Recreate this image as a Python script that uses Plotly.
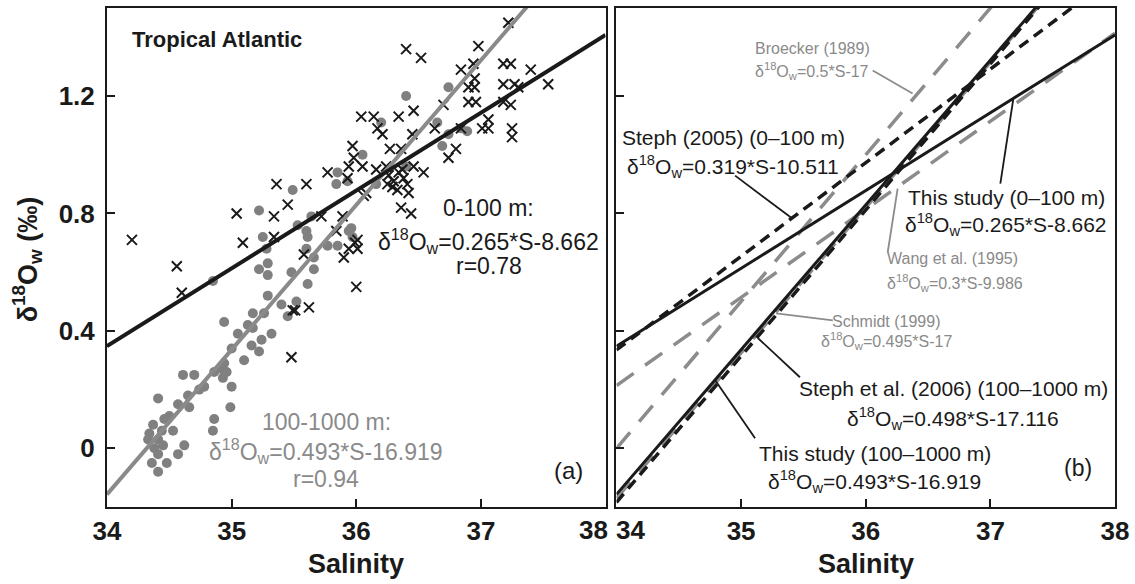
import plotly.graph_objects as go

FONT = "Liberation Sans, Arial, Helvetica, sans-serif"
BLACK = "#1a1a1a"
GRAY_DOT = "#808080"
GRAY_TXT = "#8a8a8a"
GRAY_LINE = "#8c8c8c"

# ---- panel (a) data: 100-1000 m (gray dots) ----
deep_sal = [35.29, 35.40, 35.17, 34.94, 35.26, 35.13, 35.05, 35.17, 35.32, 35.24,
            35.16, 35.00, 35.22, 35.10, 34.94, 34.92, 34.96, 34.86, 34.93, 35.00,
            34.78, 34.74, 34.61, 34.70, 34.65, 34.41, 34.57, 34.66, 34.99, 34.50,
            34.46, 34.86, 34.85, 34.37, 34.53, 34.34, 34.44, 34.41, 34.45, 34.62,
            34.57, 34.41, 34.36, 34.48, 34.41, 34.33, 34.38,
            36.05, 35.85, 35.84, 35.93, 36.16, 35.49, 35.22, 35.64, 35.53, 35.60,
            35.25, 35.60, 35.77, 35.85, 35.96, 35.97, 35.66, 35.29, 35.22, 35.29,
            35.48, 35.66, 34.85, 35.61, 35.52, 35.45, 36.40, 36.74, 36.20, 36.65,
            36.74, 36.69, 36.40, 36.84, 36.89, 35.94, 35.61, 35.28]
deep_d18o = [0.52, 0.49, 0.46, 0.43, 0.46, 0.42, 0.39, 0.41, 0.39, 0.37,
             0.35, 0.34, 0.33, 0.30, 0.29, 0.27, 0.26, 0.26, 0.24, 0.21,
             0.21, 0.20, 0.25, 0.25, 0.18, 0.17, 0.15, 0.14, 0.14, 0.11,
             0.10, 0.10, 0.06, 0.08, 0.06, 0.05, 0.06, 0.03, 0.01, 0.01,
             -0.02, -0.02, -0.05, -0.05, -0.08, 0.03, 0.00,
             1.00, 0.94, 0.90, 0.91, 0.90, 0.88, 0.81, 0.79, 0.76, 0.74,
             0.72, 0.68, 0.69, 0.69, 0.75, 0.72, 0.65, 0.63, 0.61, 0.59,
             0.60, 0.61, 0.57, 0.56, 0.50, 0.45, 1.20, 1.23, 1.11, 1.11,
             1.07, 1.03, 0.96, 1.09, 1.08, 0.74, 0.72, 0.68]

# ---- panel (a) data: 0-100 m (black crosses) ----
surf_sal = [34.20, 34.56, 34.60, 35.04, 35.09, 35.34, 35.36, 35.45, 35.34, 35.49,
            35.48, 35.97, 35.98, 35.94, 36.05, 35.77, 35.93, 35.60, 35.72, 35.89,
            36.06, 35.84, 35.58, 35.90, 35.94, 36.01, 35.99, 36.00, 35.51, 35.62,
            36.40, 36.52, 37.22, 36.98, 36.94, 36.84, 37.18, 37.24, 37.40, 36.95,
            36.90, 36.95, 37.18, 37.27, 37.30, 37.54, 36.90, 36.96, 37.18, 37.24,
            36.70, 36.46, 36.04, 36.14, 36.34, 36.17, 36.21, 36.45, 36.63, 36.84,
            37.01, 37.06, 37.06, 37.25, 37.25, 36.27, 36.36, 36.80, 36.74, 36.16,
            36.24, 36.46, 36.54, 36.08, 36.36, 36.44, 36.26, 36.30, 36.34, 36.38,
            36.29, 36.33, 36.41, 36.25, 36.37, 36.42, 36.01]
surf_d18o = [0.71, 0.62, 0.53, 0.80, 0.70, 0.79, 0.90, 0.83, 0.72, 0.47,
             0.31, 1.03, 0.99, 0.96, 0.96, 0.94, 0.92, 0.90, 0.79, 0.79,
             0.86, 0.74, 0.66, 0.65, 0.68, 0.68, 0.70, 0.55, 0.47, 0.48,
             1.36, 1.33, 1.45, 1.37, 1.31, 1.29, 1.31, 1.31, 1.29, 1.26,
             1.23, 1.23, 1.24, 1.24, 1.23, 1.24, 1.18, 1.18, 1.18, 1.17,
             1.17, 1.15, 1.13, 1.13, 1.13, 1.09, 1.07, 1.07, 1.09, 1.09,
             1.09, 1.12, 1.09, 1.09, 1.06, 1.02, 1.02, 1.02, 0.99, 0.95,
             0.96, 0.96, 0.94, 0.87, 0.82, 0.80, 0.93, 0.91, 0.94, 0.92,
             0.89, 0.88, 0.90, 0.90, 0.95, 0.87, 0.71]

# ---- regression equations (slope, intercept) as printed on the chart ----
sal_ends = [34, 38]
eq_names = ["Broecker (1989)", "Wang et al. (1995)", "Schmidt (1999)",
            "Steph (2005) (0-100 m)", "Steph et al. (2006) (100-1000 m)",
            "This study (0-100 m)", "This study (100-1000 m)"]
eq_slopes = [0.5, 0.3, 0.495, 0.319, 0.498, 0.265, 0.493]
eq_intercepts = [-17.0, -9.986, -17.0, -10.511, -17.116, -8.662, -16.919]
eq_colors = [GRAY_LINE, GRAY_LINE, GRAY_LINE, BLACK, BLACK, BLACK, BLACK]
eq_dashes = ["21px,14px", "21px,14px", "21px,14px", "11px,7px", "11px,7px", "solid", "solid"]
eq_widths = [3.5, 3.5, 3.5, 3.5, 3.5, 3, 3]

x_ticks = [34, 35, 36, 37, 38]
y_ticks = [0, 0.4, 0.8, 1.2]
y_ticktext = ["0", "0.4", "0.8", "1.2"]

fig = go.Figure()

# panel (a)
fig.add_trace(go.Scatter(x=deep_sal, y=deep_d18o, mode="markers",
                         marker=dict(color=GRAY_DOT, size=10, symbol="circle"),
                         xaxis="x", yaxis="y", showlegend=False))
fig.add_trace(go.Scatter(x=surf_sal, y=surf_d18o, mode="markers",
                         marker=dict(symbol="x-thin", size=10, color=BLACK,
                                     line=dict(color=BLACK, width=2)),
                         xaxis="x", yaxis="y", showlegend=False))
for k, c, w in [(6, "#8a8a8a", 4), (5, BLACK, 4)]:
    fig.add_trace(go.Scatter(x=sal_ends,
                             y=[eq_slopes[k] * s + eq_intercepts[k] for s in sal_ends],
                             mode="lines", line=dict(color=c, width=w),
                             xaxis="x", yaxis="y", showlegend=False))

# panel (b)
for k in range(len(eq_names)):
    fig.add_trace(go.Scatter(x=sal_ends,
                             y=[eq_slopes[k] * s + eq_intercepts[k] for s in sal_ends],
                             mode="lines",
                             line=dict(color=eq_colors[k], width=eq_widths[k], dash=eq_dashes[k]),
                             xaxis="x2", yaxis="y2", showlegend=False, name=eq_names[k]))

D = "δ<sup>18</sup>O<sub>w</sub>"

ann = []


def add(xref, yref, x, y, text, size=21, color=BLACK, xanchor="center", bold=False, angle=0):
    ann.append(dict(xref=xref, yref=yref, x=x, y=y, text=text, showarrow=False,
                    xanchor=xanchor, yanchor="middle", textangle=angle,
                    font=dict(family=FONT, size=size, color=color,
                              weight="bold" if bold else "normal")))


# panel (a) texts
add("x", "y", 34.184, 1.392, "Tropical Atlantic", size=22, xanchor="left", bold=True)
add("x", "y", 37.064, 0.817, "0-100 m:", size=23)
add("x", "y", 37.064, 0.705, D + "=0.265*S-8.662", size=23)
add("x", "y", 37.064, 0.622, "r=0.78", size=23)
add("x", "y", 35.76, 0.088, "100-1000 m:", size=23, color=GRAY_TXT)
add("x", "y", 35.76, -0.010, D + "=0.493*S-16.919", size=23, color=GRAY_TXT)
add("x", "y", 35.76, -0.104, "r=0.94", size=23, color=GRAY_TXT)
add("x", "y", 37.704, -0.075, "(a)", size=24)

# panel (b) texts
add("x2", "y2", 35.096, 1.362, "Broecker (1989)", size=16, color=GRAY_TXT, xanchor="left")
add("x2", "y2", 35.096, 1.284, D + "=0.5*S-17", size=16, color=GRAY_TXT, xanchor="left")
add("x2", "y2", 34.936, 1.059, "Steph (2005) (0–100 m)")
add("x2", "y2", 34.936, 0.960, D + "=0.319*S-10.511")
add("x2", "y2", 37.128, 0.854, "This study (0–100 m)")
add("x2", "y2", 37.128, 0.763, D + "=0.265*S-8.662")
add("x2", "y2", 36.152, 0.647, "Wang et al. (1995)", size=16, color=GRAY_TXT, xanchor="left")
add("x2", "y2", 36.152, 0.562, D + "=0.3*S-9.986", size=16, color=GRAY_TXT, xanchor="left")
add("x2", "y2", 36.168, 0.432, "Schmidt (1999)", size=16, color=GRAY_TXT)
add("x2", "y2", 36.168, 0.365, D + "=0.495*S-17", size=16, color=GRAY_TXT)
add("x2", "y2", 36.704, 0.204, "Steph et al. (2006) (100–1000 m)")
add("x2", "y2", 36.704, 0.103, D + "=0.498*S-17.116")
add("x2", "y2", 36.072, -0.017, "This study (100–1000 m)")
add("x2", "y2", 36.072, -0.112, D + "=0.493*S-16.919")
add("x2", "y2", 37.704, -0.068, "(b)", size=23)

# axis titles and edge tick labels
add("paper", "paper", -0.079, 0.497, "δ<sup>18</sup>O<sub>w</sub> (‰)", size=27, bold=True, angle=-90)
add("x", "paper", 36, -0.114, "Salinity", size=27, bold=True)
add("x2", "paper", 36, -0.114, "Salinity", size=27, bold=True)
add("paper", "paper", 0.4827, -0.046, "38", size=26, bold=True)
add("paper", "paper", 0.5193, -0.046, "34", size=26, bold=True)

# leader lines in panel (b)
leaders = [
    ((36.056, 1.287), (36.376, 1.209), GRAY_LINE),
    ((34.952, 0.929), (35.400, 0.786), BLACK),
    ((37.080, 0.902), (37.184, 1.190), BLACK),
    ((36.176, 0.667), (36.256, 0.885), GRAY_LINE),
    ((35.280, 0.460), (35.736, 0.436), GRAY_LINE),
    ((35.136, 0.375), (35.472, 0.242), BLACK),
    ((34.792, 0.232), (35.112, 0.034), BLACK),
]
shapes = []
for (x0, y0), (x1, y1), col in leaders:
    shapes.append(dict(type="line", xref="x2", yref="y2", x0=x0, y0=y0, x1=x1, y1=y1,
                       line=dict(color=col, width=1.8)))

axis_common = dict(range=[34, 38], showgrid=False, zeroline=False, showline=True,
                   linecolor=BLACK, linewidth=2, mirror=True, ticks="inside",
                   ticklen=8, tickwidth=2, tickcolor=BLACK, tickvals=x_ticks,
                   tickfont=dict(family=FONT, size=26, color=BLACK, weight="bold"))
yaxis_common = dict(range=[-0.2, 1.5], showgrid=False, zeroline=False, showline=True,
                    linecolor=BLACK, linewidth=2, mirror=True, ticks="inside",
                    ticklen=8, tickwidth=2, tickcolor=BLACK, tickvals=y_ticks,
                    ticktext=y_ticktext,
                    tickfont=dict(family=FONT, size=26, color=BLACK, weight="bold"))

fig.update_layout(
    width=1135, height=584,
    margin=dict(l=107, r=17, t=6, b=77),
    paper_bgcolor="white", plot_bgcolor="white",
    xaxis=dict(domain=[0, 0.49456], ticktext=["34", "35", "36", "37", ""], **axis_common),
    xaxis2=dict(domain=[0.50544, 1], anchor="y2", ticktext=["", "35", "36", "37", "38"], **axis_common),
    yaxis=dict(anchor="x", ticklabelstandoff=5, **yaxis_common),
    yaxis2=dict(anchor="x2", showticklabels=False, **yaxis_common),
    annotations=ann, shapes=shapes,
    font=dict(family=FONT),
)

fig.write_html("out.html")
